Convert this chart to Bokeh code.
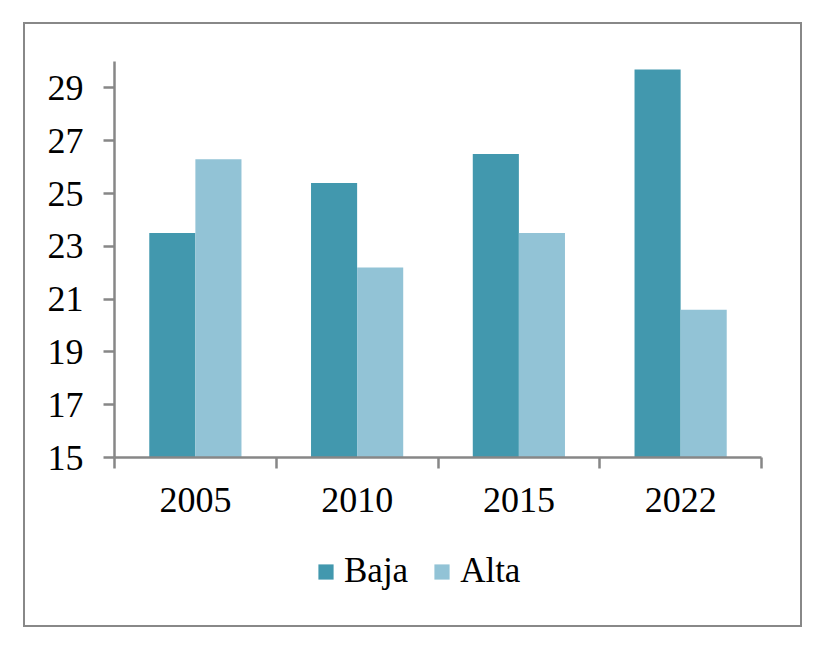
from bokeh.plotting import figure
from bokeh.models import FixedTicker, Legend, LegendItem, Range1d, Spacer
from bokeh.layouts import row, column
from bokeh.embed import file_html
from bokeh.resources import INLINE

years = ["2005", "2010", "2015", "2022"]
baja = [23.5, 25.4, 26.5, 29.7]
alta = [26.3, 22.2, 23.5, 20.6]
y_ticks = [15, 17, 19, 21, 23, 25, 27, 29]
series_names = ["Baja", "Alta"]

BAJA_COLOR = "#4298AE"
ALTA_COLOR = "#92C3D6"
GRAY = "#878787"
FONT = "Liberation Serif"

idx = list(range(len(years)))
bar_w = 0.285

# main chart
p = figure(width=775, height=506, x_range=Range1d(0, len(years)), y_range=Range1d(15, 30),
           output_backend="svg", toolbar_location=None,
           min_border_left=89, min_border_right=39, min_border_top=37, min_border_bottom=73)
p.xgrid.visible = False
p.ygrid.visible = False
p.outline_line_color = None
p.background_fill_color = "white"
p.border_fill_color = "white"

p.vbar(x=[i + 0.5 - bar_w / 2 for i in idx], top=baja, bottom=15, width=bar_w,
       fill_color=BAJA_COLOR, line_color=None)
p.vbar(x=[i + 0.5 + bar_w / 2 for i in idx], top=alta, bottom=15, width=bar_w,
       fill_color=ALTA_COLOR, line_color=None)

xa = p.xaxis[0]
xa.ticker = FixedTicker(ticks=[i + 0.5 for i in idx], minor_ticks=[float(i) for i in range(len(years) + 1)])
xa.major_label_overrides = {i + 0.5: y for i, y in zip(idx, years)}
xa.major_tick_out = 0
xa.major_tick_in = 0
xa.minor_tick_out = 11
xa.minor_tick_in = 0
xa.minor_tick_line_color = GRAY
xa.minor_tick_line_width = 2.5
xa.axis_line_color = GRAY
xa.axis_line_width = 2.5
xa.major_label_standoff = 19
xa.major_label_text_font = FONT
xa.major_label_text_font_size = "36px"
xa.major_label_text_color = "black"

ya = p.yaxis[0]
ya.ticker = FixedTicker(ticks=y_ticks)
ya.major_tick_out = 11
ya.major_tick_in = 0
ya.minor_tick_line_color = None
ya.major_tick_line_color = GRAY
ya.major_tick_line_width = 2.5
ya.axis_line_color = GRAY
ya.axis_line_width = 2.5
ya.major_label_standoff = 20
ya.major_label_text_font = FONT
ya.major_label_text_font_size = "36px"
ya.major_label_text_color = "black"

# legend strip (its own small canvas, no axes); swatch renderers sit outside the visible range
pl = figure(width=775, height=95, x_range=Range1d(0, 1), y_range=Range1d(0, 1),
            output_backend="svg", toolbar_location=None,
            x_axis_location=None, y_axis_location=None, min_border=0)
pl.xgrid.visible = False
pl.ygrid.visible = False
pl.outline_line_color = None
pl.background_fill_color = "white"
pl.border_fill_color = "white"
lr1 = pl.vbar(x=[-5], top=[-5], bottom=-6, width=0.1, fill_color=BAJA_COLOR, line_color=None)
lr2 = pl.vbar(x=[-5], top=[-5], bottom=-6, width=0.1, fill_color=ALTA_COLOR, line_color=None)

legend = Legend(items=[LegendItem(label=series_names[0], renderers=[lr1]),
                       LegendItem(label=series_names[1], renderers=[lr2])],
                orientation="horizontal", location=(202, 34),
                border_line_color=None, background_fill_alpha=0,
                glyph_width=19, glyph_height=19, label_text_font=FONT,
                label_text_font_size="35px", label_text_color="black",
                label_standoff=9, spacing=24, padding=0, margin=0)
pl.add_layout(legend, "center")

box = column(p, pl, spacing=0, styles={"border": "2.5px solid #888888"})
layout = column(Spacer(height=22), row(Spacer(width=23), box))

open("out.html", "w").write(file_html(layout, INLINE))
